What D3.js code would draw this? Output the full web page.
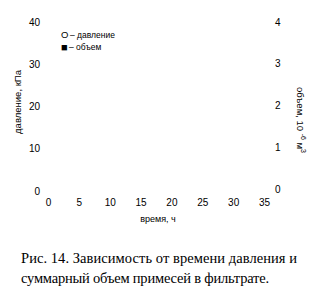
<!DOCTYPE html>
<html><head><meta charset="utf-8">
<script src="https://cdn.jsdelivr.net/npm/d3@7"></script>
<style>body{margin:0;background:#fff}svg{display:block}</style>
</head><body>
<script>
const xTicks = [0,5,10,15,20,25,30,35];
const pTicks = [0,10,20,30,40];
const vTicks = [0,1,2,3,4];
const pressure = [];  // no visible points
const volume = [];
const legendMarks = ["O", "■"];
const legendLabels = ["– давление", "– объем"];
const captionLines = ["Рис. 14. Зависимость от времени давления и", "суммарный объем примесей в фильтрате."];

const svg = d3.select("body").append("svg").attr("width",325).attr("height",293);
const x = d3.scaleLinear().domain([0,35]).range([48,264]);
const yL = d3.scaleLinear().domain([0,40]).range([191,22]);
const yR = d3.scaleLinear().domain([0,4]).range([189,22]);
const font = "Arial, 'Liberation Sans', sans-serif";

function style(g){
  g.select(".domain").remove();
  g.selectAll("line").remove();
  g.selectAll("text").attr("font-family",font).attr("font-size",10).attr("fill","#000");
}
svg.append("g").attr("transform","translate(44,0)")
  .call(d3.axisLeft(yL).tickValues(pTicks).tickFormat(d3.format("d")).tickSize(0).tickPadding(4)).call(style);
svg.append("g").attr("transform","translate(273,0)")
  .call(d3.axisRight(yR).tickValues(vTicks).tickFormat(d3.format("d")).tickSize(0).tickPadding(2)).call(style);
svg.append("g").attr("transform","translate(0,196)")
  .call(d3.axisBottom(x).tickValues(xTicks).tickFormat(d3.format("d")).tickSize(0).tickPadding(3)).call(style);

svg.selectAll(".pt").data(pressure).enter().append("circle")
  .attr("cx",d=>x(d[0])).attr("cy",d=>yL(d[1])).attr("r",3).attr("fill","none").attr("stroke","#000");
svg.selectAll(".vt").data(volume).enter().append("rect")
  .attr("x",d=>x(d[0])-3).attr("y",d=>yR(d[1])-3).attr("width",6).attr("height",6).attr("fill","#000");

// axis titles
svg.append("text").attr("x",158).attr("y",222).attr("text-anchor","middle")
  .attr("font-family",font).attr("font-size",9).text("время, ч");
svg.append("text").attr("transform","translate(21,102) rotate(-90)").attr("text-anchor","middle")
  .attr("font-family",font).attr("font-size",9.5).text("давление, кПа");
const rt = svg.append("text").attr("transform","translate(297,120) rotate(90)").attr("text-anchor","middle")
  .attr("font-family",font).attr("font-size",9.5);
rt.append("tspan").text("объем, 10 ");
rt.append("tspan").attr("dy",-4).attr("font-size",7).text("-6");
rt.append("tspan").attr("dy",4).text(" м");
rt.append("tspan").attr("dy",-4).attr("font-size",7).text("3");

// legend
const lg = svg.selectAll(".lg").data(legendLabels).enter().append("g")
  .attr("transform",(d,i)=>`translate(0,${38+i*11.5})`);
lg.append("text").attr("x",(d,i)=>i===0?61:61).attr("y",(d,i)=>i===0?0:1)
  .attr("font-family",font).attr("font-size",(d,i)=>i===0?9.5:11).text((d,i)=>legendMarks[i]);
lg.append("text").attr("x",(d,i)=>i===0?70:69)
  .attr("font-family",font).attr("font-size",8.5).text(d=>d);

// caption
svg.selectAll(".cap").data(captionLines).enter().append("text")
  .attr("x",21).attr("y",(d,i)=>263+i*19.5)
  .attr("font-family","'Liberation Serif', 'Times New Roman', serif").attr("font-size",14.5)
  .attr("textLength",(d,i)=>i===0?276:248).attr("lengthAdjust","spacing").text(d=>d);
</script>
</body></html>
